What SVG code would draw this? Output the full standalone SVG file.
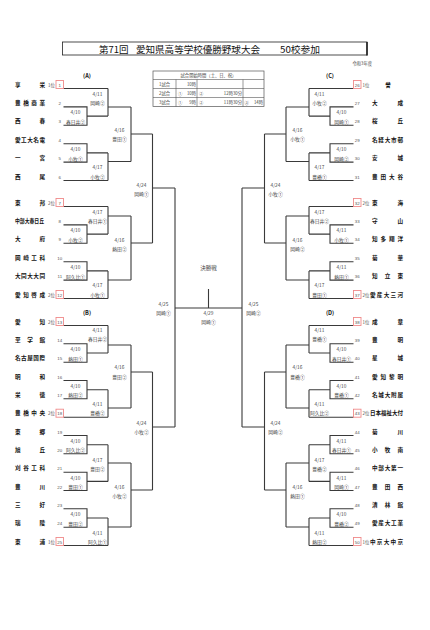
<svg xmlns="http://www.w3.org/2000/svg" width="430" height="630" viewBox="0 0 430 630">
<style>
.nm{font-family:"Noto Sans CJK JP",sans-serif;font-size:5.6px;font-weight:bold;fill:#111}
.no{font-family:"Liberation Sans",sans-serif;font-size:4.4px;fill:#555;text-anchor:middle}
.sd{font-family:"Noto Sans CJK JP",sans-serif;font-size:4.4px;fill:#555}
.lb{font-family:"Noto Sans CJK JP",sans-serif;font-size:4.8px;fill:#444;text-anchor:middle}
.tb{font-family:"Noto Sans CJK JP",sans-serif;font-size:4.3px;fill:#444}
.ln{stroke:#3a3a3a;stroke-width:1.1;fill:none}
.rb{fill:none;stroke:#f08a8a;stroke-width:0.9}
.tt{font-family:"Noto Sans CJK JP",sans-serif;font-size:9.5px;fill:#111}
</style>
<rect width="430" height="630" fill="#fff"/>
<g id="title">
<rect x="62.5" y="42" width="304.5" height="13" fill="none" stroke="#222" stroke-width="0.8"/>
<line x1="367" y1="42" x2="367" y2="55.5" stroke="#222" stroke-width="1.6"/>
<text class="tt" x="99" y="52.5">第71回</text>
<text class="tt" x="136" y="52.5" textLength="124" lengthAdjust="spacingAndGlyphs">愛知県高等学校優勝野球大会</text>
<text class="tt" x="280" y="52.5" textLength="40" lengthAdjust="spacingAndGlyphs">50校参加</text>
<text class="tb" x="372" y="64.5" text-anchor="end">令和3年度</text>
</g>
<g id="schedule">
<rect x="153" y="71" width="111" height="35.5" fill="none" stroke="#555" stroke-width="0.7"/>
<path d="M153,79.5H264M153,88.5H264M153,97.5H264M176,79.5V106.5M197,79.5V106.5M243,79.5V106.5" stroke="#555" stroke-width="0.6" fill="none"/>
<text class="tb" x="208.5" y="77" text-anchor="middle">試合開始時間（土、日、祝）</text>
<text class="tb" x="164.5" y="85.5" text-anchor="middle">1試合</text>
<text class="tb" x="164.5" y="94.5" text-anchor="middle">2試合</text>
<text class="tb" x="164.5" y="103.5" text-anchor="middle">3試合</text>
<text class="tb" x="196" y="85.5" text-anchor="end">10時</text>
<text class="tb" x="178" y="94.5">①</text><text class="tb" x="196" y="94.5" text-anchor="end">10時</text>
<text class="tb" x="178" y="103.5">①</text><text class="tb" x="196" y="103.5" text-anchor="end">9時</text>
<text class="tb" x="199" y="94.5">②</text><text class="tb" x="242" y="94.5" text-anchor="end">12時30分</text>
<text class="tb" x="199" y="103.5">②</text><text class="tb" x="242" y="103.5" text-anchor="end">11時30分</text>
<text class="tb" x="244.5" y="103.5">③</text><text class="tb" x="263" y="103.5" text-anchor="end">14時</text>
</g>
<g id="sections">
<text class="nm" x="87" y="77.5" text-anchor="middle" font-weight="normal">(A)</text>
<text class="nm" x="87" y="314.5" text-anchor="middle" font-weight="normal">(B)</text>
<text class="nm" x="330" y="77.5" text-anchor="middle" font-weight="normal">(C)</text>
<text class="nm" x="330" y="314.5" text-anchor="middle" font-weight="normal">(D)</text>
</g>
<g id="connectors" class="ln">
<path d="M63.5,88.5H108M63.5,106.9H87V125.3H63.5M87,116.1H108M108,88.5V116.1M108,107H131"/>
<path d="M63.5,143.7H87V162.1H63.5M87,152.9H108M63.5,180.5H108M108,152.9V180.5M108,161.5H131M131,107V161.5M131,134H152.5"/>
<path d="M63.5,206.5H108M63.5,224.9H87V243.3H63.5M87,234.1H108M108,206.5V234.1M108,216H131"/>
<path d="M63.5,261.7H87V280.1H63.5M87,270.9H108M63.5,298.5H108M108,270.9V298.5M108,280H131M131,216V280M131,243H152.5M152.5,134V243M152.5,188H175"/>
<path d="M63.5,325.5H108M63.5,343.8H87V362.2H63.5M87,353H108M108,325.5V353M108,345H131"/>
<path d="M63.5,380.5H87V398.8H63.5M87,389.7H108M63.5,417.2H108M108,389.7V417.2M108,408H131M131,345V408M131,372H152.5"/>
<path d="M63.5,435.5H87V453.8H63.5M87,444.7H108M63.5,472.2H87V490.5H63.5M87,481.4H108M108,444.7V481.4M108,463H131"/>
<path d="M63.5,508.8H87V527.2H63.5M87,518H108M63.5,545.5H108M108,518V545.5M108,527H131M131,463V527M131,490H152.5M152.5,372V490M152.5,427H175"/>
<path d="M175,188V427M175,308H242M208.5,289V308M242,188V427"/>
<path d="M353.5,88.5H309M353.5,106.9H330V125.3H353.5M330,116.1H309M309,88.5V116.1M309,107H286"/>
<path d="M353.5,143.7H330V162.1H353.5M330,152.9H309M353.5,180.5H309M309,152.9V180.5M309,161.5H286M286,107V161.5M286,134H264.5"/>
<path d="M353.5,206.5H309M353.5,224.9H330V243.3H353.5M330,234.1H309M309,206.5V234.1M309,216H286"/>
<path d="M353.5,261.7H330V280.1H353.5M330,270.9H309M353.5,298.5H309M309,270.9V298.5M309,280H286M286,216V280M286,243H264.5M264.5,134V243M264.5,188H242"/>
<path d="M353.5,325.5H309M353.5,343.8H330V362.2H353.5M330,353H309M309,325.5V353M309,345H286"/>
<path d="M353.5,380.5H330V398.8H353.5M330,389.7H309M353.5,417.2H309M309,389.7V417.2M309,408H286M286,345V408M286,372H264.5"/>
<path d="M353.5,435.5H330V453.8H353.5M330,444.7H309M353.5,472.2H330V490.5H353.5M330,481.4H309M309,444.7V481.4M309,463H286"/>
<path d="M353.5,508.8H330V527.2H353.5M330,518H309M353.5,545.5H309M309,518V545.5M309,527H286M286,463V527M286,490H264.5M264.5,372V490M264.5,427H242"/>
</g>
<g id="seedboxes" class="rb">
<rect x="56" y="80.5" width="7.5" height="8"/>
<rect x="56" y="198.5" width="7.5" height="8"/>
<rect x="56" y="290.5" width="7.5" height="8"/>
<rect x="56" y="317.5" width="7.5" height="8"/>
<rect x="56" y="409.2" width="7.5" height="8"/>
<rect x="56" y="537.5" width="7.5" height="8"/>
<rect x="353.5" y="80.5" width="7.5" height="8"/>
<rect x="353.5" y="198.5" width="7.5" height="8"/>
<rect x="353.5" y="290.5" width="7.5" height="8"/>
<rect x="353.5" y="317.5" width="7.5" height="8"/>
<rect x="353.5" y="409.2" width="7.5" height="8"/>
<rect x="353.5" y="537.5" width="7.5" height="8"/>
</g>
<g id="t1"><text class="nm" x="15" y="86.5" textLength="30" lengthAdjust="spacing">享栄</text><text class="sd" x="48" y="86.5">1位</text><text class="no" x="59.8" y="86.5">1</text></g>
<g id="t2"><text class="nm" x="15" y="104.9" textLength="30" lengthAdjust="spacing">豊橋商業</text><text class="no" x="59.8" y="104.9">2</text></g>
<g id="t3"><text class="nm" x="15" y="123.3" textLength="30" lengthAdjust="spacing">西春</text><text class="no" x="59.8" y="123.3">3</text></g>
<g id="t4"><text class="nm" x="15" y="141.7" textLength="30" lengthAdjust="spacing">愛工大名電</text><text class="no" x="59.8" y="141.7">4</text></g>
<g id="t5"><text class="nm" x="15" y="160.1" textLength="30" lengthAdjust="spacing">一宮</text><text class="no" x="59.8" y="160.1">5</text></g>
<g id="t6"><text class="nm" x="15" y="178.5" textLength="30" lengthAdjust="spacing">西尾</text><text class="no" x="59.8" y="178.5">6</text></g>
<g id="t7"><text class="nm" x="15" y="204.5" textLength="30" lengthAdjust="spacing">東邦</text><text class="sd" x="48" y="204.5">2位</text><text class="no" x="59.8" y="204.5">7</text></g>
<g id="t8"><text class="nm" x="15" y="222.9" textLength="29" lengthAdjust="spacingAndGlyphs">中部大春日丘</text><text class="no" x="59.8" y="222.9">8</text></g>
<g id="t9"><text class="nm" x="15" y="241.3" textLength="30" lengthAdjust="spacing">大府</text><text class="no" x="59.8" y="241.3">9</text></g>
<g id="t10"><text class="nm" x="15" y="259.7" textLength="30" lengthAdjust="spacing">岡崎工科</text><text class="no" x="59.8" y="259.7">10</text></g>
<g id="t11"><text class="nm" x="15" y="278.1" textLength="30" lengthAdjust="spacing">大同大大同</text><text class="no" x="59.8" y="278.1">11</text></g>
<g id="t12"><text class="nm" x="15" y="296.5" textLength="30" lengthAdjust="spacing">愛知啓成</text><text class="sd" x="48" y="296.5">2位</text><text class="no" x="59.8" y="296.5">12</text></g>
<g id="t13"><text class="nm" x="15" y="323.5" textLength="30" lengthAdjust="spacing">愛知</text><text class="sd" x="48" y="323.5">2位</text><text class="no" x="59.8" y="323.5">13</text></g>
<g id="t14"><text class="nm" x="15" y="341.8" textLength="30" lengthAdjust="spacing">至学館</text><text class="no" x="59.8" y="341.8">14</text></g>
<g id="t15"><text class="nm" x="15" y="360.2" textLength="30" lengthAdjust="spacing">名古屋国際</text><text class="no" x="59.8" y="360.2">15</text></g>
<g id="t16"><text class="nm" x="15" y="378.5" textLength="30" lengthAdjust="spacing">明和</text><text class="no" x="59.8" y="378.5">16</text></g>
<g id="t17"><text class="nm" x="15" y="396.8" textLength="30" lengthAdjust="spacing">栄徳</text><text class="no" x="59.8" y="396.8">17</text></g>
<g id="t18"><text class="nm" x="15" y="415.2" textLength="30" lengthAdjust="spacing">豊橋中央</text><text class="sd" x="48" y="415.2">2位</text><text class="no" x="59.8" y="415.2">18</text></g>
<g id="t19"><text class="nm" x="15" y="433.5" textLength="30" lengthAdjust="spacing">東郷</text><text class="no" x="59.8" y="433.5">19</text></g>
<g id="t20"><text class="nm" x="15" y="451.8" textLength="30" lengthAdjust="spacing">旭丘</text><text class="no" x="59.8" y="451.8">20</text></g>
<g id="t21"><text class="nm" x="15" y="470.2" textLength="30" lengthAdjust="spacing">刈谷工科</text><text class="no" x="59.8" y="470.2">21</text></g>
<g id="t22"><text class="nm" x="15" y="488.5" textLength="30" lengthAdjust="spacing">豊川</text><text class="no" x="59.8" y="488.5">22</text></g>
<g id="t23"><text class="nm" x="15" y="506.8" textLength="30" lengthAdjust="spacing">三好</text><text class="no" x="59.8" y="506.8">23</text></g>
<g id="t24"><text class="nm" x="15" y="525.2" textLength="30" lengthAdjust="spacing">瑞陵</text><text class="no" x="59.8" y="525.2">24</text></g>
<g id="t25"><text class="nm" x="15" y="543.5" textLength="30" lengthAdjust="spacing">東浦</text><text class="sd" x="48" y="543.5">1位</text><text class="no" x="59.8" y="543.5">25</text></g>
<g id="t26"><text class="no" x="357.3" y="86.5">26</text><text class="sd" x="362.5" y="86.5">1位</text><text class="nm" x="388" y="86.5" text-anchor="middle">誉</text></g>
<g id="t27"><text class="no" x="357.3" y="104.9">27</text><text class="nm" x="372" y="104.9" textLength="31" lengthAdjust="spacing">大成</text></g>
<g id="t28"><text class="no" x="357.3" y="123.3">28</text><text class="nm" x="372" y="123.3" textLength="31" lengthAdjust="spacing">桜丘</text></g>
<g id="t29"><text class="no" x="357.3" y="141.7">29</text><text class="nm" x="372" y="141.7" textLength="31" lengthAdjust="spacing">名経大市邨</text></g>
<g id="t30"><text class="no" x="357.3" y="160.1">30</text><text class="nm" x="372" y="160.1" textLength="31" lengthAdjust="spacing">安城</text></g>
<g id="t31"><text class="no" x="357.3" y="178.5">31</text><text class="nm" x="372" y="178.5" textLength="31" lengthAdjust="spacing">豊田大谷</text></g>
<g id="t32"><text class="no" x="357.3" y="204.5">32</text><text class="sd" x="362.5" y="204.5">2位</text><text class="nm" x="372" y="204.5" textLength="31" lengthAdjust="spacing">東海</text></g>
<g id="t33"><text class="no" x="357.3" y="222.9">33</text><text class="nm" x="372" y="222.9" textLength="31" lengthAdjust="spacing">守山</text></g>
<g id="t34"><text class="no" x="357.3" y="241.3">34</text><text class="nm" x="372" y="241.3" textLength="31" lengthAdjust="spacing">知多翔洋</text></g>
<g id="t35"><text class="no" x="357.3" y="259.7">35</text><text class="nm" x="372" y="259.7" textLength="31" lengthAdjust="spacing">菊華</text></g>
<g id="t36"><text class="no" x="357.3" y="278.1">36</text><text class="nm" x="372" y="278.1" textLength="31" lengthAdjust="spacing">知立東</text></g>
<g id="t37"><text class="no" x="357.3" y="296.5">37</text><text class="sd" x="362.5" y="296.5">2位</text><text class="nm" x="370" y="296.5" textLength="33" lengthAdjust="spacing">愛産大三河</text></g>
<g id="t38"><text class="no" x="357.3" y="323.5">38</text><text class="sd" x="362.5" y="323.5">1位</text><text class="nm" x="372" y="323.5" textLength="31" lengthAdjust="spacing">成章</text></g>
<g id="t39"><text class="no" x="357.3" y="341.8">39</text><text class="nm" x="372" y="341.8" textLength="31" lengthAdjust="spacing">豊明</text></g>
<g id="t40"><text class="no" x="357.3" y="360.2">40</text><text class="nm" x="372" y="360.2" textLength="31" lengthAdjust="spacing">星城</text></g>
<g id="t41"><text class="no" x="357.3" y="378.5">41</text><text class="nm" x="372" y="378.5" textLength="31" lengthAdjust="spacing">愛知黎明</text></g>
<g id="t42"><text class="no" x="357.3" y="396.8">42</text><text class="nm" x="372" y="396.8" textLength="31" lengthAdjust="spacing">名城大附属</text></g>
<g id="t43"><text class="no" x="357.3" y="415.2">43</text><text class="sd" x="362.5" y="415.2">2位</text><text class="nm" x="370" y="415.2" textLength="33" lengthAdjust="spacingAndGlyphs">日本福祉大付</text></g>
<g id="t44"><text class="no" x="357.3" y="433.5">44</text><text class="nm" x="372" y="433.5" textLength="31" lengthAdjust="spacing">菊川</text></g>
<g id="t45"><text class="no" x="357.3" y="451.8">45</text><text class="nm" x="372" y="451.8" textLength="31" lengthAdjust="spacing">小牧南</text></g>
<g id="t46"><text class="no" x="357.3" y="470.2">46</text><text class="nm" x="372" y="470.2" textLength="31" lengthAdjust="spacing">中部大第一</text></g>
<g id="t47"><text class="no" x="357.3" y="488.5">47</text><text class="nm" x="372" y="488.5" textLength="31" lengthAdjust="spacing">豊田西</text></g>
<g id="t48"><text class="no" x="357.3" y="506.8">48</text><text class="nm" x="372" y="506.8" textLength="31" lengthAdjust="spacing">清林館</text></g>
<g id="t49"><text class="no" x="357.3" y="525.2">49</text><text class="nm" x="372" y="525.2" textLength="31" lengthAdjust="spacing">愛産大工業</text></g>
<g id="t50"><text class="no" x="357.3" y="543.5">50</text><text class="sd" x="362.5" y="543.5">1位</text><text class="nm" x="370" y="543.5" textLength="33" lengthAdjust="spacing">中京大中京</text></g>
<g id="match-labels" class="lb">
<text x="75.5" y="114.4">4/10</text><text x="75.5" y="123.8">春日井②</text>
<text x="75.5" y="151.2">4/10</text><text x="75.5" y="160.6">小牧①</text>
<text x="75.5" y="232.4">4/10</text><text x="75.5" y="241.8">小牧②</text>
<text x="75.5" y="269.2">4/10</text><text x="75.5" y="278.6">阿久比①</text>
<text x="75.5" y="351.3">4/10</text><text x="75.5" y="360.7">熱田①</text>
<text x="75.5" y="388">4/10</text><text x="75.5" y="397.3">熱田②</text>
<text x="75.5" y="443">4/10</text><text x="75.5" y="452.3">阿久比②</text>
<text x="75.5" y="479.7">4/10</text><text x="75.5" y="489">豊田①</text>
<text x="75.5" y="516.3">4/10</text><text x="75.5" y="525.7">豊田②</text>
<text x="341.5" y="114.4">4/10</text><text x="341.5" y="123.8">岡崎①</text>
<text x="341.5" y="151.2">4/10</text><text x="341.5" y="160.6">岡崎②</text>
<text x="341.5" y="232.4">4/11</text><text x="341.5" y="241.8">小牧①</text>
<text x="341.5" y="269.2">4/11</text><text x="341.5" y="278.6">熱田①</text>
<text x="341.5" y="351.3">4/10</text><text x="341.5" y="360.7">春日井①</text>
<text x="341.5" y="388">4/10</text><text x="341.5" y="397.3">豊橋①</text>
<text x="341.5" y="443">4/11</text><text x="341.5" y="452.3">春日井①</text>
<text x="341.5" y="479.7">4/11</text><text x="341.5" y="489">岡崎①</text>
<text x="341.5" y="516.3">4/10</text><text x="341.5" y="525.7">豊橋②</text>
<text x="97.5" y="95.5">4/11</text><text x="97.5" y="105">岡崎②</text>
<text x="97.5" y="169">4/17</text><text x="97.5" y="178.5">小牧②</text>
<text x="97.5" y="214">4/17</text><text x="97.5" y="223">春日井①</text>
<text x="97.5" y="287">4/17</text><text x="97.5" y="296.5">小牧①</text>
<text x="97.5" y="332">4/11</text><text x="97.5" y="341">春日井②</text>
<text x="97.5" y="406">4/11</text><text x="97.5" y="415">豊橋②</text>
<text x="97.5" y="462">4/17</text><text x="97.5" y="470.5">豊田②</text>
<text x="97.5" y="535">4/11</text><text x="97.5" y="543.5">阿久比①</text>
<text x="319.5" y="95.5">4/11</text><text x="319.5" y="105">小牧②</text>
<text x="319.5" y="169">4/17</text><text x="319.5" y="178.5">豊橋①</text>
<text x="319.5" y="214">4/17</text><text x="319.5" y="223">春日井②</text>
<text x="319.5" y="287">4/17</text><text x="319.5" y="296.5">豊田①</text>
<text x="319.5" y="332">4/11</text><text x="319.5" y="341">豊橋①</text>
<text x="319.5" y="406">4/11</text><text x="319.5" y="415">阿久比②</text>
<text x="319.5" y="462">4/17</text><text x="319.5" y="470.5">豊橋②</text>
<text x="319.5" y="535">4/11</text><text x="319.5" y="543.5">熱田②</text>
<text x="119.5" y="132">4/16</text><text x="119.5" y="141">豊田①</text>
<text x="119.5" y="242">4/16</text><text x="119.5" y="251">熱田②</text>
<text x="119.5" y="369">4/16</text><text x="119.5" y="379">豊田②</text>
<text x="119.5" y="489">4/16</text><text x="119.5" y="498">小牧②</text>
<text x="297.5" y="132">4/16</text><text x="297.5" y="141">小牧①</text>
<text x="297.5" y="242">4/16</text><text x="297.5" y="251">岡崎②</text>
<text x="297.5" y="369">4/16</text><text x="297.5" y="379">豊橋①</text>
<text x="297.5" y="489">4/16</text><text x="297.5" y="498">熱田①</text>
<text x="141.5" y="187">4/24</text><text x="141.5" y="196">岡崎①</text>
<text x="141.5" y="425">4/24</text><text x="141.5" y="434">小牧②</text>
<text x="275.5" y="187">4/24</text><text x="275.5" y="196">小牧①</text>
<text x="275.5" y="425">4/24</text><text x="275.5" y="434">岡崎②</text>
<text x="163.5" y="306">4/25</text><text x="163.5" y="315">岡崎①</text>
<text x="253.5" y="306">4/25</text><text x="253.5" y="315">岡崎②</text>
<text x="208.5" y="269.5" font-size="5.5">決勝戦</text>
<text x="208.5" y="315">4/29</text><text x="208.5" y="324">岡崎①</text>
</g>
</svg>
